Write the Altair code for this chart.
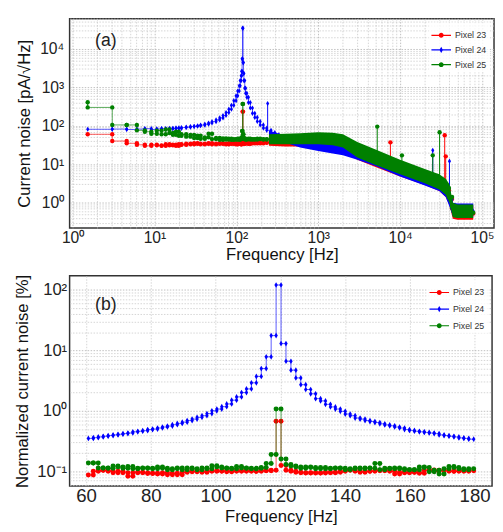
import altair as alt
import pandas as pd

SERIES = ["Pixel 23", "Pixel 24", "Pixel 25"]
COLORS = ["#ff0000", "#0000ff", "#008000"]
FONT = "Liberation Sans"

# ---------------- (a) full spectrum: bin edges [Hz] and values [pA/sqrt(Hz)] ----------------
top_edges = [1.53, 3.05, 4.58, 6.10, 7.63, 9.16, 10.68, 12.21, 13.73, 15.26, 16.78, 18.31, 19.84, 21.36,
             24.4, 27.5, 30.5, 33.6, 36.6, 41.2, 45.8, 50.4, 56.5, 62.6, 68.7, 74.8, 80.9, 87.0, 93.1, 99.2,
             103.8, 108.3, 111.4, 114.4, 116.0, 117.5, 119.0, 120.6, 122.1, 123.6, 126.6, 129.7, 134.3, 140.4,
             148.0, 157.2, 167.9, 180.1, 195.3, 213.6, 234.9, 265, 295, 330, 370, 420, 480, 550, 630, 720,
             830, 950, 1100, 1270, 1460, 1680, 1940, 2240, 2580, 2980, 3440, 3970, 4580, 5290, 6100, 7040,
             8130, 9390, 10800, 12500, 14400, 16700, 19200, 22200, 25600, 29600, 34100, 39400, 43000, 46000,
             50000, 56000, 63000, 70000, 78000]

top_red = [60, 40, 35, 32, 30, 32, 31, 30, 33, 31, 32, 30, 33,
           32, 34, 33, 35, 34, 33,
           34, 35, 33, 34, 35, 34, 33, 35, 34, 35,
           33, 34, 35, 34, 33, 34, 36,
           234,
           40, 35, 34, 35, 36, 35, 34, 35, 36, 35, 36, 35, 36, 37,
           37, 37, 38, 38, 39, 39, 40, 41, 42, 43, 44, 44, 43, 41, 38, 35, 31, 27, 23, 20,
           17, 14.5, 12.5, 11, 10, 9, 8, 7.2, 6.3, 5.6, 5.0, 4.4, 3.9, 3.4, 2.9, 2.1, 1.25, 0.72, 0.58, 0.55,
           0.53, 0.52, 0.52]

top_blue = [81, 82, 80, 82, 84, 80, 83, 85, 82, 86, 84, 88, 85,
            90, 92, 95, 97, 100, 104,
            110, 118, 128, 142, 160, 185, 220, 270, 340, 450,
            600, 800, 1100, 1500, 2000, 2600, 5500,
            34600,
            4400, 2300, 1500, 950, 700, 550, 400, 290, 210, 165, 130, 105, 87, 76,
            66, 58, 52, 48, 45, 42, 40, 37, 35, 33, 31, 29, 27, 26, 24, 23, 21, 19, 17, 15.5,
            14, 12.5, 11.5, 10.5, 9.5, 8.5, 7.6, 6.8, 6.0, 5.3, 4.7, 4.1, 3.6, 3.1, 2.6, 1.9, 1.2, 0.75, 0.66, 0.63,
            0.62, 0.61, 0.60]

top_green = [300, 105, 105, 76, 70, 62, 75, 60, 80, 65, 58, 70, 55,
             60, 52, 58, 48, 55, 46,
             50, 62, 45, 48, 43, 47, 44, 46, 43, 45,
             44, 46, 44, 45, 46, 50, 73,
             370,
             60, 48, 45, 46, 44, 45, 46, 44, 45, 44, 46, 45, 44, 45,
             45, 44, 44, 44, 45, 45, 46, 47, 48, 49, 50, 50, 49, 47, 44, 40, 35, 30, 26, 22,
             19, 16, 14, 12.5, 11, 10, 9, 8, 7, 6.2, 5.5, 4.9, 4.3, 3.8, 3.2, 2.4, 1.4, 0.8, 0.62, 0.58,
             0.56, 0.55, 0.55]

# spread of the dense noise band (min / max envelope)
band_freq = [250, 400, 600, 1000, 1500, 2000, 3000, 5000, 10000, 20000, 30000, 36000, 40000, 44000, 50000, 78000]
band_red_lo = [30, 29, 29, 29, 27, 23, 13, 8.5, 4.8, 2.9, 2.0, 1.4, 0.85, 0.38, 0.36, 0.36]
band_red_hi = [55, 56, 58, 62, 60, 54, 34, 22, 12, 7, 5, 3.8, 2.6, 0.9, 0.85, 0.85]
band_blue_lo = [58, 36, 27, 22, 19, 17, 13, 9, 4.8, 2.8, 2.0, 1.4, 0.8, 0.45, 0.42, 0.42]
band_blue_hi = [75, 55, 45, 42, 40, 36, 26, 18, 10, 5.8, 4.2, 3.2, 2.4, 1.0, 0.95, 0.95]
band_green_lo = [33, 33, 33, 33, 31, 27, 15, 9.5, 5.5, 3.2, 2.2, 1.6, 1.0, 0.42, 0.40, 0.40]
band_green_hi = [60, 62, 64, 68, 66, 60, 38, 24, 13, 7.5, 5.5, 4.2, 3.0, 1.0, 0.9, 0.9]

# narrow spurious lines
spike_red_f = [7600, 35000, 36000]
spike_red_base = [10, 2.2, 2.0]
spike_red_top = [37, 57, 16]
spike_blue_f = [241, 25000, 40000]
spike_blue_base = [76, 3.4, 1.5]
spike_blue_top = [380, 23, 12]
spike_green_f = [1.53, 5250, 10500, 25000, 30300]
spike_green_base = [300, 14, 8, 4, 3.4]
spike_green_top = [410, 95, 17, 17, 68]

# ---------------- (b) zoom around 120 Hz: normalized noise [%] ----------------
bot_start = 60.7
bot_bin = 1.526
bot_red = [0.087, 0.100, 0.104, 0.104, 0.100, 0.095, 0.100, 0.095, 0.083, 0.095,
           0.097, 0.095, 0.092, 0.093, 0.090, 0.095, 0.088, 0.093, 0.088, 0.097,
           0.100, 0.098, 0.100, 0.097, 0.100, 0.102, 0.100, 0.101, 0.098, 0.100,
           0.102, 0.100, 0.102, 0.100, 0.100, 0.103, 0.102, 0.104, 0.67, 0.125,
           0.104, 0.100, 0.097, 0.095, 0.094, 0.095, 0.094, 0.094, 0.097, 0.095,
           0.097, 0.100, 0.104, 0.105, 0.100, 0.097, 0.100, 0.100, 0.104, 0.102,
           0.104, 0.100, 0.090, 0.097, 0.095, 0.097, 0.097, 0.093, 0.104, 0.105,
           0.100, 0.104, 0.104, 0.100, 0.100, 0.102, 0.100, 0.102]
bot_blue = [0.35, 0.36, 0.37, 0.38, 0.39, 0.40, 0.41, 0.42, 0.43, 0.45,
            0.46, 0.47, 0.49, 0.50, 0.52, 0.54, 0.56, 0.59, 0.62, 0.65,
            0.69, 0.73, 0.78, 0.83, 0.90, 1.0, 1.07, 1.17, 1.3, 1.5,
            1.7, 2.0, 2.3, 2.9, 3.7, 5.0, 7.8, 17.5, 120, 12.9,
            6.6, 4.7, 3.5, 2.7, 2.25, 1.91, 1.59, 1.46, 1.28, 1.16,
            1.07, 0.98, 0.885, 0.83, 0.76, 0.73, 0.69, 0.665, 0.64, 0.61,
            0.585, 0.565, 0.54, 0.52, 0.49, 0.475, 0.46, 0.45, 0.44, 0.43,
            0.42, 0.40, 0.39, 0.38, 0.37, 0.357, 0.35, 0.34]
bot_green = [0.137, 0.137, 0.114, 0.114, 0.112, 0.122, 0.118, 0.112, 0.120, 0.110,
             0.112, 0.114, 0.112, 0.110, 0.118, 0.112, 0.106, 0.110, 0.114, 0.106,
             0.114, 0.110, 0.106, 0.114, 0.110, 0.124, 0.118, 0.114, 0.112, 0.110,
             0.120, 0.114, 0.112, 0.110, 0.112, 0.116, 0.135, 0.19, 1.07, 0.16,
             0.13, 0.122, 0.118, 0.112, 0.118, 0.116, 0.110, 0.116, 0.110, 0.112,
             0.114, 0.112, 0.106, 0.110, 0.114, 0.110, 0.114, 0.112, 0.135, 0.106,
             0.112, 0.110, 0.114, 0.110, 0.106, 0.106, 0.106, 0.118, 0.116, 0.098,
             0.104, 0.090, 0.110, 0.120, 0.116, 0.110, 0.106, 0.110]

assert len(top_edges) == len(top_red) + 1 == len(top_blue) + 1 == len(top_green) + 1
assert len(bot_red) == len(bot_blue) == len(bot_green)

bot_edges = [round(bot_start + bot_bin * j, 3) for j in range(len(bot_red) + 1)]

# ---------------- helpers ----------------
CIRCLE = "circle"
DIAMOND = "M0,-1L0.6,0L0,1L-0.6,0Z"
MARKERS = [CIRCLE, DIAMOND, CIRCLE]
LEG_CIRCLE = ("M-1,-0.06L-0.24,-0.06L-0.24,0.06L-1,0.06Z"
              "M0.24,-0.06L1,-0.06L1,0.06L0.24,0.06Z"
              "M-0.25,0A0.25,0.25 0 1,1 0.25,0A0.25,0.25 0 1,1 -0.25,0Z")
LEG_DIAMOND = ("M-1,-0.06L-0.14,-0.06L-0.14,0.06L-1,0.06Z"
               "M0.14,-0.06L1,-0.06L1,0.06L0.14,0.06Z"
               "M0,-0.32L0.18,0L0,0.32L-0.18,0Z")
LEG_PATHS = [LEG_CIRCLE, LEG_DIAMOND, LEG_CIRCLE]
SUP = {-1: "\u207b\u00b9", 0: "\u2070", 1: "\u00b9", 2: "\u00b2", 3: "\u00b3", 4: "\u2074", 5: "\u2075"}


def step_frame(edges, vals, name):
    rows = []
    for i, v in enumerate(vals):
        rows.append({"f": edges[i], "v": v, "s": name, "i": 2 * i})
        rows.append({"f": edges[i + 1], "v": v, "s": name, "i": 2 * i + 1})
    return pd.DataFrame(rows)


def log_values(e0, e1, lo, hi):
    out = []
    for e in range(e0, e1 + 1):
        for m in range(1, 10):
            v = round(m * 10.0 ** e, 6)
            if lo <= v <= hi:
                out.append(v)
    return out


def pow_label(powers):
    expr = "''"
    for p in reversed(powers):
        expr = f"(abs(log(datum.value)/LN10 - ({p})) < 0.001) ? '10{SUP[p]}' : ({expr})"
    return expr


MAJOR_TEST = "abs(log(datum.value)/LN10 - round(log(datum.value)/LN10)) < 0.001"
GRID_COLOR = {"condition": {"test": MAJOR_TEST, "value": "#b0b0b0"}, "value": "#cacaca"}


def major_size(size):
    return {"condition": {"test": MAJOR_TEST, "value": size}, "value": 0}


color_scale = alt.Scale(domain=SERIES, range=COLORS)


def make_legend(row_pad):
    return alt.Legend(title=None, orient="top-right", offset=4, padding=3,
                      labelFontSize=9, labelFont=FONT, labelColor="#333",
                      symbolSize=400, symbolOpacity=1, symbolStrokeWidth=0,
                      rowPadding=row_pad, labelOffset=4,
                      fillColor="rgba(255,255,255,0.8)")


def panel(x_enc, y_enc, steps, bands, spikes, label, label_y, w, h, msize, row_pad):
    xf = lambda f: alt.X(f, **x_enc)
    yf = lambda f: alt.Y(f, **y_enc)
    leg = make_legend(row_pad)
    # legend carrier first (invisible marks, visible legend)
    ldf = steps[0].iloc[:1].drop(columns=["s"]).merge(pd.DataFrame({"s": SERIES}), how="cross")
    layers = [alt.Chart(ldf).mark_point(filled=True, opacity=0).encode(
        x=xf("f:Q"), y=yf("v:Q"),
        color=alt.Color("s:N", scale=color_scale, legend=leg),
        shape=alt.Shape("s:N", scale=alt.Scale(domain=SERIES, range=LEG_PATHS), legend=leg))]
    for k, name in enumerate(SERIES):
        c = COLORS[k]
        ms = msize if k != 1 else msize + 8
        if bands is not None:
            bf, blo, bhi = bands[k]
            bdf = pd.DataFrame({"f": bf, "lo": blo, "hi": bhi})
            layers.append(alt.Chart(bdf).mark_area(color=c, opacity=1).encode(
                x=xf("f:Q"), y=yf("lo:Q"), y2="hi:Q"))
        sdf = steps[k]
        layers.append(alt.Chart(sdf).mark_line(color=c, strokeWidth=1, opacity=0.65).encode(
            x=xf("f:Q"), y=yf("v:Q"), order="i:Q"))
        layers.append(alt.Chart(sdf).mark_point(color=c, filled=True, opacity=1, size=ms,
                                                shape=MARKERS[k]).encode(
            x=xf("f:Q"), y=yf("v:Q")))
        if spikes is not None:
            sf, sb, st = spikes[k]
            spdf = pd.DataFrame({"f": sf, "base": sb, "top": st})
            layers.append(alt.Chart(spdf).mark_rule(color=c, strokeWidth=1).encode(
                x=xf("f:Q"), y=yf("base:Q"), y2="top:Q"))
            layers.append(alt.Chart(spdf).mark_point(color=c, filled=True, opacity=1, size=ms,
                                                     shape=MARKERS[k]).encode(
                x=xf("f:Q"), y=yf("top:Q")))
    layers.append(alt.Chart(pd.DataFrame({"t": [label]})).mark_text(
        align="left", baseline="middle", font=FONT, fontSize=18, color="#222").encode(
        text="t:N", x=alt.value(26), y=alt.value(label_y)))
    return alt.layer(*layers).properties(width=w, height=h)


# ---------------- panel (a) ----------------
tx_vals = log_values(0, 5, 0.92, 1.4e5)
ty_vals = log_values(-1, 4, 0.22, 6.1e4)
top_x = dict(scale=alt.Scale(type="log", domain=[0.92, 1.4e5], nice=False),
             axis=alt.Axis(values=tx_vals, labelExpr=pow_label([0, 1, 2, 3, 4, 5]), title="Frequency [Hz]",
                           grid=True, gridColor=GRID_COLOR, ticks=False, tickSize=0,
                           labelFontSize=major_size(16),
                           titleFontSize=17, labelPadding=2, titlePadding=1, labelOverlap=False,
                           labelFlush=False))
top_y = dict(scale=alt.Scale(type="log", domain=[0.22, 6.1e4], nice=False),
             axis=alt.Axis(values=ty_vals, labelExpr=pow_label([0, 1, 2, 3, 4]),
                           title="Current noise [pA/\u221aHz]",
                           grid=True, gridColor=GRID_COLOR, ticks=False, tickSize=0,
                           labelFontSize=major_size(16),
                           titleFontSize=17, labelPadding=6, titlePadding=6, labelOverlap=False,
                           labelFlush=False))

top_steps = [step_frame(top_edges, v, n) for v, n in zip([top_red, top_blue, top_green], SERIES)]
top_bands = [(band_freq, band_red_lo, band_red_hi), (band_freq, band_blue_lo, band_blue_hi),
             (band_freq, band_green_lo, band_green_hi)]
top_spikes = [(spike_red_f, spike_red_base, spike_red_top), (spike_blue_f, spike_blue_base, spike_blue_top),
              (spike_green_f, spike_green_base, spike_green_top)]
top = panel(top_x, top_y, top_steps, top_bands, top_spikes, "(a)", 23, 434, 214, 20, 0)

# ---------------- panel (b) ----------------
by_vals = log_values(-2, 2, 0.057, 170)
bot_x = dict(scale=alt.Scale(domain=[54.9, 185.4], nice=False, zero=False),
             axis=alt.Axis(values=[60, 80, 100, 120, 140, 160, 180], title="Frequency [Hz]",
                           grid=True, gridColor="#cacaca", ticks=False, tickSize=0, labelFontSize=19,
                           titleFontSize=17, labelPadding=1, titlePadding=3, labelOverlap=False,
                           labelFlush=False))
bot_y = dict(scale=alt.Scale(type="log", domain=[0.057, 170], nice=False),
             axis=alt.Axis(values=by_vals, labelExpr=pow_label([-1, 0, 1, 2]),
                           title="Normalized current noise [%]",
                           grid=True, gridColor=GRID_COLOR, ticks=False, tickSize=0,
                           labelFontSize=major_size(17),
                           labelPadding=3, titlePadding=5, titleFontSize=17, labelOverlap=False,
                           labelFlush=False))
bot_steps = [step_frame(bot_edges, v, n) for v, n in zip([bot_red, bot_blue, bot_green], SERIES)]
bottom = panel(bot_x, bot_y, bot_steps, None, None, "(b)", 30, 432, 215, 26, 2)

chart = alt.vconcat(top, bottom, spacing=10).resolve_scale(
    color="independent", shape="independent"
).resolve_legend(
    color="independent", shape="independent"
).properties(
    padding={"left": 5, "top": 4, "right": 0, "bottom": 0}
).configure_axis(
    labelFont=FONT, titleFont=FONT, titleFontWeight="normal", labelColor="#222", titleColor="#111",
    domain=False, gridDash=[1.5, 1.5], gridWidth=0.8
).configure_view(stroke="#333", strokeWidth=1.5)

chart.save("out.html", embed_options={"renderer": "svg", "actions": False})
